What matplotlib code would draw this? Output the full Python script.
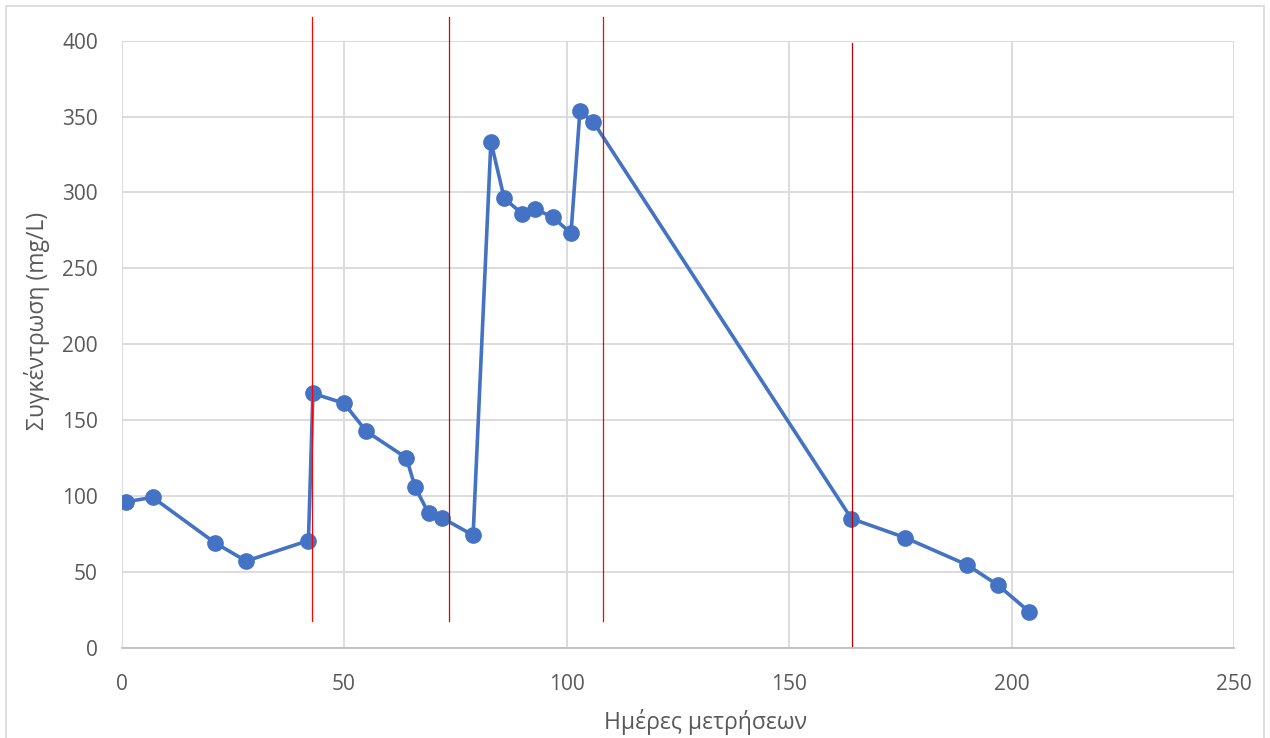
import matplotlib
matplotlib.use("Agg")
import matplotlib.pyplot as plt
from matplotlib.patches import Rectangle

days = [1, 7, 21, 28, 42, 43, 50, 55, 64, 66, 69, 72, 79,
        83, 86, 90, 93, 97, 101, 103, 106, 164, 176, 190, 197, 204]
conc = [96, 99, 69, 57, 70.5, 167.5, 161, 142.5, 125, 105.5, 88.5, 85.5, 74,
        333.5, 296, 286, 289, 283.5, 273, 353.5, 346.5, 85, 72.5, 54.5, 41, 23.5]
event_days = [42.75, 73.5, 108.1, 164.2]
event_ranges = [(17.5, 415.5), (17.5, 415.5), (17.5, 415.5), (1, 398.5)]
event_colors = ["#ff0000", "#e00000", "#ff0000", "#c00000"]
xticks = [0, 50, 100, 150, 200, 250]
yticks = [0, 50, 100, 150, 200, 250, 300, 350, 400]

plt.rcParams['font.family'] = ['Open Sans', 'DejaVu Sans']

W, H = 1270, 738
fig = plt.figure(figsize=(12.7, 7.38), dpi=100)
ax = fig.add_axes([0.0957, 0.1226, 0.8760, 0.8223])

ax.plot(days, conc, color="#4472C4", lw=2.6, marker="o", markersize=11,
        markerfacecolor="#4472C4", markeredgecolor="#4472C4", zorder=3)

for d, (lo, hi), c in zip(event_days, event_ranges, event_colors):
    ax.plot([d, d], [lo, hi], color=c, lw=0.9, clip_on=False, zorder=4)

ax.set_xlim(0, 250)
ax.set_ylim(0, 400)
ax.set_xticks(xticks)
ax.set_yticks(yticks)
ax.grid(True, color="#d9d9d9", lw=1.3)
ax.set_axisbelow(True)
for s in ["top", "right", "left"]:
    ax.spines[s].set_visible(False)
ax.spines["bottom"].set_color("#bfbfbf")
ax.spines["bottom"].set_linewidth(1.3)
ax.tick_params(length=0, labelsize=15, labelcolor="#595959")
ax.tick_params(axis="y", pad=17)
ax.tick_params(axis="x", pad=19)

fig.text(705 / W, 1 - 722 / H, "Ημέρες μετρήσεων", fontsize=16.5, color="#595959",
         ha="center", va="center")
fig.text(37 / W, 1 - 321 / H, "Συγκέντρωση (mg/L)", fontsize=16.5, color="#595959",
         ha="center", va="center", rotation=90)

fig.patches.append(Rectangle((6 / W, -0.01), 1258 / W, 1 - 6 / H + 0.01,
                             transform=fig.transFigure, fill=False,
                             edgecolor="#d9d9d9", lw=1.2))

fig.savefig("out.png", dpi=100)
